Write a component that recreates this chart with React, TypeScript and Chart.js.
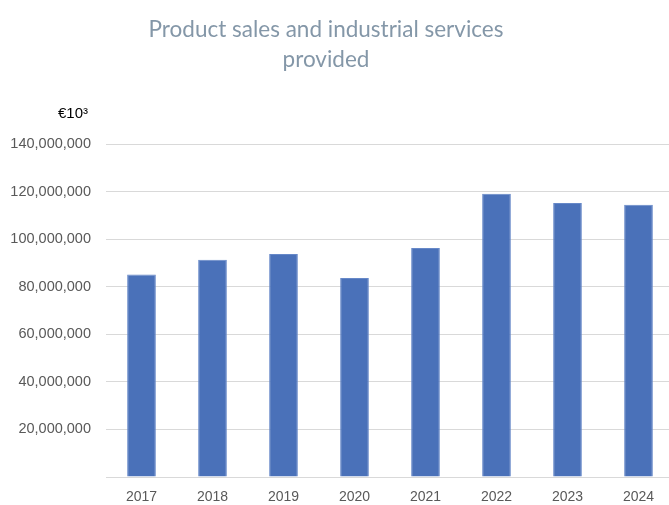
import React, { useEffect, useRef } from "react";
import { Chart, registerables } from "chart.js";

Chart.register(...registerables);

const years = ["2017", "2018", "2019", "2020", "2021", "2022", "2023", "2024"];
const salesValues = [85100000, 91300000, 93800000, 83700000, 96300000, 119100000, 115200000, 114500000];
const titleLines = ["Product sales and industrial services", "provided"];
const unitLabel = "€10³";

const yMax = 140000000;
const yStep = 20000000;

// Title and unit caption are painted on the canvas so they can sit
// centred over the visible area rather than the full canvas width.
const captionPlugin = {
  id: "captions",
  afterDraw(chart: any) {
    const ctx = chart.ctx;
    ctx.save();
    ctx.font = "22.5px Lato, 'Open Sans', sans-serif";
    ctx.fillStyle = "#8497A8";
    ctx.textAlign = "center";
    ctx.textBaseline = "middle";
    titleLines.forEach((line, i) => ctx.fillText(line, 326, 30 + i * 30));

    ctx.font = "15px 'Liberation Sans', Arial, sans-serif";
    ctx.fillStyle = "#000000";
    ctx.textAlign = "right";
    ctx.fillText(unitLabel, 88, 114);
    ctx.restore();
  },
};

export default function App() {
  const canvasRef = useRef<HTMLCanvasElement | null>(null);

  useEffect(() => {
    document.body.style.margin = "0";
    const canvas = canvasRef.current;
    if (!canvas) return;
    const chart = new Chart(canvas, {
      type: "bar",
      data: {
        labels: years,
        datasets: [
          {
            label: "Product sales and industrial services provided",
            data: salesValues,
            backgroundColor: "#4A71B9",
            borderColor: "#6688c8",
            borderWidth: 1,
            categoryPercentage: 1,
            barPercentage: 0.404,
          },
        ],
      },
      options: {
        responsive: false,
        animation: false,
        maintainAspectRatio: false,
        layout: { padding: { left: 0, right: 0, top: 144, bottom: 0 } },
        plugins: {
          legend: { display: false },
          tooltip: { enabled: false },
          title: { display: false },
        },
        scales: {
          x: {
            grid: { display: false, drawTicks: false },
            border: { display: false },
            ticks: {
              color: "#595959",
              font: { family: "'Liberation Sans', Arial, sans-serif", size: 14 },
              padding: 12,
              maxRotation: 0,
            },
            afterFit(scale: any) {
              scale.height = 28;
            },
          },
          y: {
            min: 0,
            max: yMax,
            grid: { color: "#d9d9d9", lineWidth: 1, drawTicks: false },
            border: { display: false },
            ticks: {
              stepSize: yStep,
              color: "#595959",
              font: { family: "'Liberation Sans', Arial, sans-serif", size: 14.5 },
              padding: 15,
              callback: (v: any) => (Number(v) === 0 ? "" : Number(v).toLocaleString("en-US")),
            },
            afterFit(scale: any) {
              scale.width = 106;
            },
          },
        },
      },
      plugins: [captionPlugin],
    });
    return () => chart.destroy();
  }, []);

  return (
    <div style={{ position: "fixed", left: 0, top: 0, width: 669, height: 505, overflow: "hidden", background: "#ffffff" }}>
      <canvas ref={canvasRef} width={674} height={505} style={{ display: "block", width: 674, height: 505 }} />
    </div>
  );
}
